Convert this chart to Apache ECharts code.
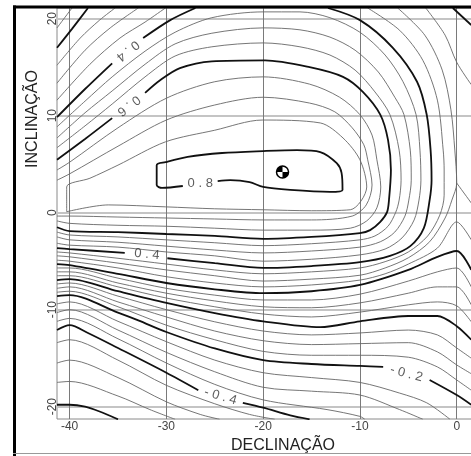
<!DOCTYPE html>
<html><head><meta charset="utf-8">
<script src="https://cdn.jsdelivr.net/npm/echarts@6/dist/echarts.min.js"></script>
<style>html,body{margin:0;padding:0;background:#fff;}#c{width:471px;height:456px;}</style>
</head><body><div id="c"></div>
<script>
// ---- axis ticks ----
const xTicks = [-40, -30, -20, -10, 0];
const yTicks = [-20, -10, 0, 10, 20];
// ---- position of the maximum (symbol) ----
const maxPoint = [-18.0, 4.2];
// ---- contour lines: flat lists x,y,x,y,...  (null = gap for a label) ----
const c_m060 = [-41.3,-19.8, -40,-19.8, -38.4,-20.0, -36.9,-20.5, -35,-21.3];
const c_m055 = [-41.3,-17.5, -40,-17.4, -35,-18.9, -31.7,-20.3, -29.1,-21.3];
const c_m050 = [-41.3,-15.5, -40,-15.2, -35,-17.0, -30,-19.5, -26.5,-20.8, -24.5,-21.3];
const c_m045 = [-41.3,-13.4, -40,-13.1, -35,-15.2, -30,-17.8, -25,-19.7, -21.4,-20.8, -18.8,-21.3];
const c_m040 = [-41.3,-12.1, -40,-11.6, -38.1,-12.4, -35,-13.95, -30,-16.5, -26.7,-18.3, null, -22.1,-19.6, -20,-20.1, -17.2,-20.9, -15.2,-21.3];
const c_m035 = [-41.3,-11.2, -40,-10.9, -35,-13.0, -30,-15.5, -25,-17.7, -20,-19.3, -13.4,-20.3, -10,-21.0, -9.5,-21.3];
const c_m030 = [-41.3,-10.3, -40,-10.0, -35,-12.1, -30,-14.4, -25,-16.4, -20,-18.0, -15,-18.4, -10,-18.8, -5.9,-20.3, -3.5,-21.3];
const c_m025 = [-41.3,-9.4, -40,-9.2, -35,-11.2, -30,-13.3, -25,-15.2, -20,-16.5, -15,-17.0, -10,-17.5, -5.9,-18.6, -3.1,-19.6, -0.7,-21.3];
const c_m020 = [-41.3,-8.6, -40,-8.5, -35,-10.3, -32.9,-11.1, -30,-12.3, -25,-14.0, -20,-15.2, -15,-15.6, -10,-15.8, -7.6,-15.9, null, -2.8,-17.25, 0,-18.8, 1.5,-19.8];
const c_m015 = [-41.3,-8.2, -40,-8.1, -35,-9.7, -30,-11.6, -25,-13.1, -20,-14.3, -15,-14.7, -10,-14.7, -5,-14.9, -2,-15.9, 0,-17.25, 1.5,-18.3];
const c_m010 = [-41.3,-7.8, -40,-7.65, -35,-9.2, -30,-10.75, -25,-12.2, -20,-13.2, -15,-13.6, -10,-13.5, -5,-13.4, -2,-14.35, 0,-15.7, 1.5,-16.6];
const c_m005 = [-41.3,-7.35, -40,-7.25, -35,-8.6, -30,-10.0, -25,-11.25, -20,-12.2, -15,-12.6, -10,-12.4, -5,-12.1, -2,-12.6, 0,-13.95, 1.5,-15.0];
const c_000 = [-41.3,-6.95, -40,-6.85, -35,-8.1, -30,-9.3, -25,-10.35, -20,-11.2, -14.1,-11.8, -10,-11.2, -5,-10.65, -2,-10.65, 0,-11.7, 1.5,-13.1];
const c_005 = [-41.3,-6.5, -40,-6.5, -35,-7.65, -30,-8.8, -25,-9.7, -20,-10.45, -15,-10.75, -10,-10.25, -5,-9.5, -2,-9.2, 0,-9.6, 1.5,-11.25];
const c_010 = [-41.3,-6.1, -40,-6.1, -35,-7.25, -30,-8.3, -25,-9.1, -20,-9.7, -15,-9.8, -10,-9.3, -5,-8.3, -2,-7.65, 0,-7.65, 1.5,-9.5];
const c_015 = [-41.3,-5.7, -40,-5.7, -35,-6.75, -30,-7.8, -25,-8.5, -20,-9.0, -15,-9.0, -10,-8.4, -5,-7.05, -2,-6.1, 0,-5.7, 1.5,-7.65];
const c_020 = [-41.3,-5.3, -40,-5.4, -35,-6.3, -30,-7.25, -25,-7.9, -20,-8.3, -15,-8.1, -10,-7.45, -5,-5.9, -2,-4.55, 0,-3.95, 1.5,-5.9];
const c_025 = [-41.3,-4.9, -40,-5.0, -35,-5.7, -30,-6.6, -25,-7.25, -20,-7.65, -15,-7.45, -10,-6.95, -7.4,-6.3, -5.0,-5.3, -2.0,-3.65, 0,-0.95, 1.5,-2.8];
const c_030 = [-41.3,-4.45, -40,-4.55, -35,-5.2, -30,-5.9, -25,-6.5, -20,-7.05, -15,-6.85, -10,-6.45, -7.4,-5.7, -5.0,-4.65, -2.8,-3.0, -1.2,-0.55, -0.5,1.3, 0,3.05, -0.2,6.45, -0.6,10.6, -1.5,14.7, -3.3,18.3, -6.1,21.1];
const c_030r = [0,3.05, 1.5,1.0];
const c_035 = [-41.3,-4.05, -40,-4.15, -35,-4.7, -30,-5.3, -25,-5.9, -20,-6.3, -15,-6.1, -10,-5.7, -7.4,-5.05, -5.0,-4.05, -3.0,-2.4, -1.75,-0.25, -1.3,1.8, -1.3,4.4, -1.4,6.45, -2.0,11.6, -3.5,15.7, -5.9,18.8, -9.2,21.1];
const c_040 = [-41.3,-3.65, -40,-3.75, -34.3,-4.15, null, -29.9,-4.7, -25,-5.2, -20,-5.7, -15,-5.5, -10,-5.1, -6.9,-4.45, -4.8,-3.45, -3.4,-1.6, -2.8,1.3, -2.6,3.35, -2.7,6.45, -3.1,10.1, -4.1,13.5, -6.6,17.0, -10.0,19.85, -13.3,21.1];
const c_045 = [-41.3,8.85, -38.4,11.5, -35.6,14.0, -32.2,16.65, -29.1,18.6, -25.3,20.1, -20.0,20.7, -16.2,20.7, -13.1,20.1, -10.0,18.6, -7.4,16.25, -5.55,13.5, -4.2,10.1, -3.8,6.45, -3.7,3.35, -3.9,1.3, -4.4,-0.75, -5.65,-2.6, -7.4,-3.75, -10.0,-4.35, -15,-4.8, -20,-5.0, -25,-4.45, -30,-4.05, -35,-3.55, -40,-3.35, -41.3,-3.15];
const c_050 = [-41.3,7.7, -38.4,10.3, -35.6,12.55, -32.2,15.3, -29.1,17.4, -25.3,18.5, -20.0,19.05, -16.2,18.85, -13.1,18.1, -10.5,16.75, -8.1,14.5, -6.4,11.9, -5.45,10.1, -4.8,6.45, -4.7,3.35, -4.95,1.3, -5.35,-0.35, -6.4,-2.0, -7.9,-3.0, -10.0,-3.55, -15,-3.95, -20,-4.15, -25,-3.85, -30,-3.45, -35,-3.05, -40,-2.8, -41.3,-2.5];
const c_055 = [-41.3,6.7, -38.4,8.95, -35.6,11.2, -32.2,14.0, -29.1,16.15, -25.3,17.1, -20.0,17.5, -16.2,17.1, -13.1,16.25, -10.5,14.7, -8.45,12.45, -6.9,10.1, -5.95,6.45, -5.75,3.35, -5.95,1.3, -6.3,0.05, -7.1,-1.4, -8.45,-2.4, -10.0,-2.8, -15,-3.2, -20,-3.4, -25,-3.1, -30,-2.8, -35,-2.5, -40,-2.3, -41.3,-2.0];
const c_060 = [-41.3,5.45, -38.4,7.6, -35.6,9.75, null, -32.2,12.35, -30.65,13.65, -28.6,14.9, -25.3,15.6, -19.8,15.7, -15.2,15.0, -11.75,14.0, -9.7,12.45, -7.9,10.1, -7.1,7.5, -6.8,4.4, -7.0,1.3, -7.2,0.05, -7.9,-0.95, -8.95,-1.8, -10.0,-2.1, -15,-2.5, -20,-2.7, -25,-2.4, -30,-2.2, -35,-2.0, -40,-1.9, -41.3,-1.5];
const c_065 = [-41.3,4.4, -40,5.2, -35,8.75, -30,11.8, -25,13.5, -20,14.0, -15.2,13.25, -12.1,11.9, -10,10.1, -8.75,8.0, -8.25,5.45, -7.85,2.65, -8.25,0.5, -9.3,-0.85, -11.0,-1.6, -15,-1.8, -20,-1.8, -25,-1.6, -30,-1.4, -35,-1.3, -40,-1.1, -41.3,-0.85];
const c_070 = [-41.3,3.35, -40,4.0, -35,6.85, -30,9.55, -25,11.1, -20,11.9, -15.2,11.3, -12.6,10.4, -10.8,8.75, -9.6,7.0, -9.2,5.45, -8.75,2.85, -9.35,0.8, -10.8,-0.35, -15,-0.75, -20,-0.75, -25,-0.65, -30,-0.55, -35,-0.45, -40,-0.35, -41.3,-0.35];
const c_075 = [-40.3,0.1, -40.3,2.65, -37.9,3.55, -35,4.9, -30.1,7.3, -25,8.5, -20.1,9.55, -14.1,9.25, -11.75,7.7, -10.0,5.45, -9.3,2.65, -11.0,0.3, -15,0.2, -20,0.3, -25,0.4, -30.1,0.6, -36.0,0.8, -40.3,0.1];
const c_080 = [-28.3,2.75, -30.45,2.55, -31.0,2.85, -31.0,4.9, -30.1,5.2, -27.8,5.75, -24.25,6.15, -20.0,6.35, -16.5,6.45, -14.1,6.25, -12.4,5.1, -11.9,4.1, -11.8,2.35, -13.1,2.15, -17.2,2.35, -20.0,2.65, -21.4,3.15, -23.4,3.35, -24.7,3.25];
const c_015tl = [-41.3,19.05, -39.75,21.1];
const c_020tl = [-41.3,17.0, -39.75,18.95, -38.1,21.1];
const c_020tr = [-0.4,21.1, 1.5,19.35];
const c_025tl = [-41.3,15.2, -38.9,18.0, -36.9,19.85, -35.3,21.1];
const c_025tr = [-3.2,21.1, -1.2,18.3, 0,15.5, 1.5,13.2];
const c_030tl = [-41.3,13.35, -38.4,16.75, -35.8,19.05, -32.9,21.1];
const c_035tl = [-41.3,11.6, -37.9,15.3, -34.8,18.0, -32.2,19.65, -30.1,21.1];
const c_040tl = [-41.3,9.85, -38.4,12.75, -35.6,15.4, null, -32.4,18.0, -29.6,19.85, -27.0,21.1];
// ---- contour labels ----
const labelText = ['0 . 4', '0 . 6', '0 . 8', '0 . 4', '- 0 . 2', '- 0 . 4'];
const labelX = [-34.0, -33.9, -26.5, -32.0, -5.2, -24.4];
const labelY = [16.7, 11.05, 3.0, -4.3, -16.6, -18.95];
const labelAngle = [219, 217, 0, -5, -15, -16];

const contourList = [
  [-0.60, c_m060], [-0.55, c_m055], [-0.50, c_m050], [-0.45, c_m045], [-0.40, c_m040],
  [-0.35, c_m035], [-0.30, c_m030], [-0.25, c_m025], [-0.20, c_m020], [-0.15, c_m015],
  [-0.10, c_m010], [-0.05, c_m005], [0.00, c_000], [0.05, c_005], [0.10, c_010],
  [0.15, c_015], [0.20, c_020], [0.25, c_025], [0.30, c_030], [0.30, c_030r], [0.35, c_035],
  [0.40, c_040], [0.45, c_045], [0.50, c_050], [0.55, c_055], [0.60, c_060], [0.65, c_065],
  [0.70, c_070], [0.75, c_075], [0.80, c_080],
  [0.15, c_015tl], [0.20, c_020tl], [0.20, c_020tr], [0.25, c_025tl], [0.25, c_025tr],
  [0.30, c_030tl], [0.35, c_035tl], [0.40, c_040tl]
];

function toPairs(flat) {
  const out = []; let i = 0;
  while (i < flat.length) {
    if (flat[i] === null) { out.push(['-', '-']); i += 1; }
    else { out.push([flat[i], flat[i + 1]]); i += 2; }
  }
  return out;
}
function isMajor(l) { return Math.abs(l * 5 - Math.round(l * 5)) < 1e-6; }

const FONT = '"Liberation Sans", Arial, sans-serif';
const series = contourList.map(([lev, arr]) => {
  const major = isMajor(lev);
  return {
    type: 'line', data: toPairs(arr), showSymbol: false, symbol: 'none',
    smooth: 0.3, connectNulls: false, silent: true, animation: false,
    lineStyle: { width: major ? 1.8 : 0.9, color: major ? '#111' : '#666' },
    z: major ? 4 : 3
  };
});
series.push({
  type: 'scatter', silent: true, animation: false, symbolSize: 0.1,
  itemStyle: { color: 'rgba(0,0,0,0)' }, z: 6,
  data: labelText.map((t, i) => ({ value: [labelX[i], labelY[i]], name: t, label: { rotate: labelAngle[i] } })),
  label: { show: true, position: 'inside', formatter: p => p.name, fontSize: 13, color: '#333', fontFamily: FONT }
});
series.push({
  type: 'custom', silent: true, animation: false, z: 10, data: [maxPoint],
  renderItem: (params, api) => {
    const c = api.coord([api.value(0), api.value(1)]);
    const r = 6;
    return { type: 'group', children: [
      { type: 'circle', shape: { cx: c[0], cy: c[1], r: r }, style: { fill: '#fff', stroke: '#000', lineWidth: 1.5 } },
      { type: 'sector', shape: { cx: c[0], cy: c[1], r0: 0, r: r, startAngle: Math.PI, endAngle: 1.5 * Math.PI }, style: { fill: '#000' } },
      { type: 'sector', shape: { cx: c[0], cy: c[1], r0: 0, r: r, startAngle: 0, endAngle: 0.5 * Math.PI }, style: { fill: '#000' } }
    ] };
  }
});

const chart = echarts.init(document.getElementById('c'), null, { renderer: 'canvas' });
chart.setOption({
  animation: false,
  backgroundColor: '#fff',
  grid: { left: 57, top: 8, width: 452, height: 411, containLabel: false, outerBoundsMode: 'none',
          show: true, borderColor: '#8a8a8a', borderWidth: 1, backgroundColor: 'transparent' },
  xAxis: {
    type: 'value', min: -41.3, max: 5.4,
    axisLine: { show: false }, axisTick: { show: false, customValues: xTicks },
    axisLabel: { customValues: xTicks, color: '#444', fontSize: 12, fontFamily: FONT, margin: 2 },
    splitLine: { show: true, lineStyle: { color: '#7a7a7a', width: 1 } },
    name: 'DECLINAÇÃO', nameLocation: 'middle', nameGap: 16,
    nameTextStyle: { fontSize: 16, color: '#222', fontFamily: FONT }
  },
  yAxis: {
    type: 'value', min: -21.27, max: 21.1,
    axisLine: { show: false }, axisTick: { show: false, customValues: yTicks },
    axisLabel: { customValues: yTicks, rotate: 90, color: '#444', fontSize: 12, fontFamily: FONT, margin: -2 },
    splitLine: { show: true, lineStyle: { color: '#c4c4c4', width: 2 } }
  },
  graphic: [
    { type: 'rect', z: 100, shape: { x: 13, y: 5.5, width: 470, height: 3 }, style: { fill: '#000' } },
    { type: 'rect', z: 100, shape: { x: 13, y: 5.5, width: 3, height: 451 }, style: { fill: '#000' } },
    { type: 'line', z: 100, shape: { x1: 13, y1: 453.5, x2: 471, y2: 453.5 }, style: { stroke: '#999', lineWidth: 1 } },
    { type: 'text', z: 100, x: 33, y: 119, rotation: Math.PI / 2,
      style: { text: 'INCLINAÇÃO', fontSize: 16, fontFamily: FONT, fill: '#222', align: 'center', verticalAlign: 'middle' } }
  ],
  series: series
});
</script></body></html>
